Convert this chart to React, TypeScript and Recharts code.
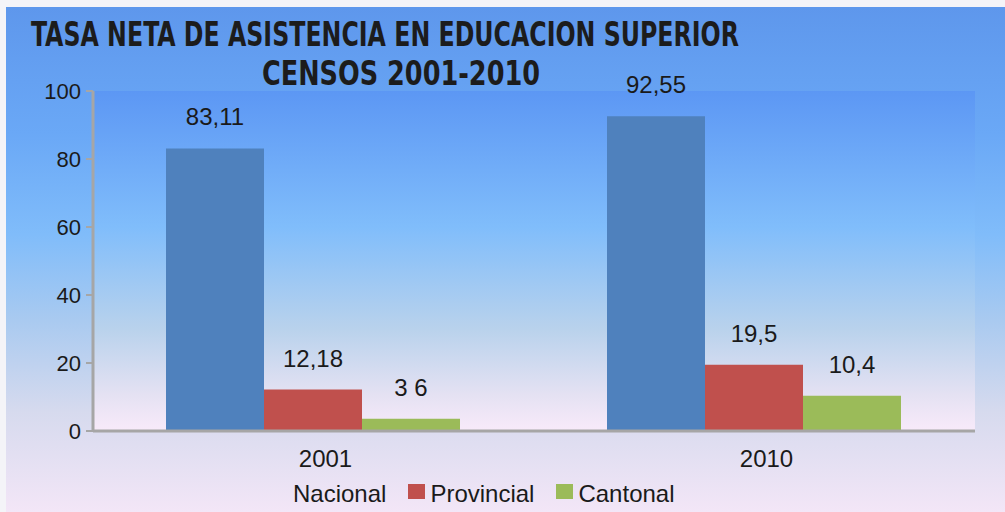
import React from 'react';
import { BarChart, Bar, XAxis, YAxis, CartesianGrid, Legend, LabelList } from 'recharts';

const years = ['2001', '2010'];
const nacional = [83.11, 92.55];
const provincial = [12.18, 19.5];
const cantonal = [3.6, 10.4];
const nacionalLabels = ['83,11', '92,55'];
const provincialLabels = ['12,18', '19,5'];
const cantonalLabels = ['3 6', '10,4'];
const yTicks = [0, 20, 40, 60, 80, 100];

const series = [
  { key: 'nacional', label: 'nacionalLabel', name: 'Nacional', color: '#4F81BD', swatch: false },
  { key: 'provincial', label: 'provincialLabel', name: 'Provincial', color: '#C0504D', swatch: true },
  { key: 'cantonal', label: 'cantonalLabel', name: 'Cantonal', color: '#9BBB59', swatch: true },
];

const data = years.map((year, i) => ({
  year,
  nacional: nacional[i],
  provincial: provincial[i],
  cantonal: cantonal[i],
  nacionalLabel: nacionalLabels[i],
  provincialLabel: provincialLabels[i],
  cantonalLabel: cantonalLabels[i],
}));

const font = '"Liberation Sans", Arial, sans-serif';
const titleFont = '"Liberation Sans Narrow", "DejaVu Sans Condensed", sans-serif';

const LegendBox = () => (
  <div style={{ display: 'flex', alignItems: 'center', paddingLeft: 293, paddingTop: 5, fontFamily: font, fontSize: 24, color: '#1a1a1a', lineHeight: '28px' }}>
    {series.map((s) => (
      <div key={s.key} style={{ display: 'flex', alignItems: 'center', marginRight: 22 }}>
        {s.swatch && (
          <span style={{ width: 17, height: 15, background: s.color, marginRight: 5, display: 'inline-block', position: 'relative', top: -3 }} />
        )}
        <span>{s.name}</span>
      </div>
    ))}
  </div>
);

export default function App() {
  return (
    <div style={{ position: 'fixed', left: 0, top: 0, width: 1005, height: 512, background: '#f4f4f8', overflow: 'hidden' }}>
      <div
        style={{
          position: 'absolute', left: 6, top: 7, width: 999, height: 505,
          background: 'linear-gradient(to bottom, #5E97EC 0%, #6AA8F6 25%, #80BCFA 45%, #A9CAF0 62%, #D6DAEE 80%, #F3E6F7 100%)',
        }}
      />
      <BarChart
        width={1005}
        height={512}
        data={data}
        margin={{ top: 91, right: 30, bottom: 0, left: 0 }}
        barCategoryGap={73}
        barGap={0}
        style={{ position: 'absolute', left: 0, top: 0 }}
      >
        <defs>
          <linearGradient id="panelGrad" x1="0" y1="0" x2="0" y2="1">
            <stop offset="0%" stopColor="#5C97F4" />
            <stop offset="40%" stopColor="#80BDFB" />
            <stop offset="70%" stopColor="#B9D2EC" />
            <stop offset="90%" stopColor="#E6E2F3" />
            <stop offset="100%" stopColor="#F8EAFA" />
          </linearGradient>
        </defs>
        <CartesianGrid horizontal={false} vertical={false} fill="url(#panelGrad)" />
        <XAxis
          dataKey="year"
          height={44}
          tickLine={false}
          tickMargin={13}
          axisLine={{ stroke: '#A6A6A6', strokeWidth: 3 }}
          tick={{ fill: '#1a1a1a', fontSize: 24, fontFamily: font, dx: 12 }}
        />
        <YAxis
          width={93}
          domain={[0, 100]}
          ticks={yTicks}
          interval={0}
          tickSize={7}
          tickMargin={5}
          axisLine={{ stroke: '#A6A6A6', strokeWidth: 3 }}
          tickLine={{ stroke: '#A6A6A6', strokeWidth: 2 }}
          tick={{ fill: '#1a1a1a', fontSize: 22, fontFamily: font }}
        />
        <Legend verticalAlign="bottom" height={37} content={<LegendBox />} wrapperStyle={{ left: 0, width: 1005 }} />
        {series.map((s) => (
          <Bar key={s.key} dataKey={s.key} name={s.name} fill={s.color} isAnimationActive={false}>
            <LabelList dataKey={s.label} position="top" offset={23} fill="#1a1a1a" fontSize={24} fontFamily={font} />
          </Bar>
        ))}
      </BarChart>
      <svg width={1005} height={100} style={{ position: 'absolute', left: 0, top: 0 }}>
        <text x={31} y={46} textLength={708} lengthAdjust="spacingAndGlyphs" fontFamily={titleFont} fontWeight="bold" fontSize={34} fill="#1c1c1c">
          TASA NETA DE ASISTENCIA EN EDUCACION SUPERIOR
        </text>
        <text x={262} y={85} textLength={278} lengthAdjust="spacingAndGlyphs" fontFamily={titleFont} fontWeight="bold" fontSize={34} fill="#1c1c1c">
          CENSOS 2001-2010
        </text>
      </svg>
    </div>
  );
}
